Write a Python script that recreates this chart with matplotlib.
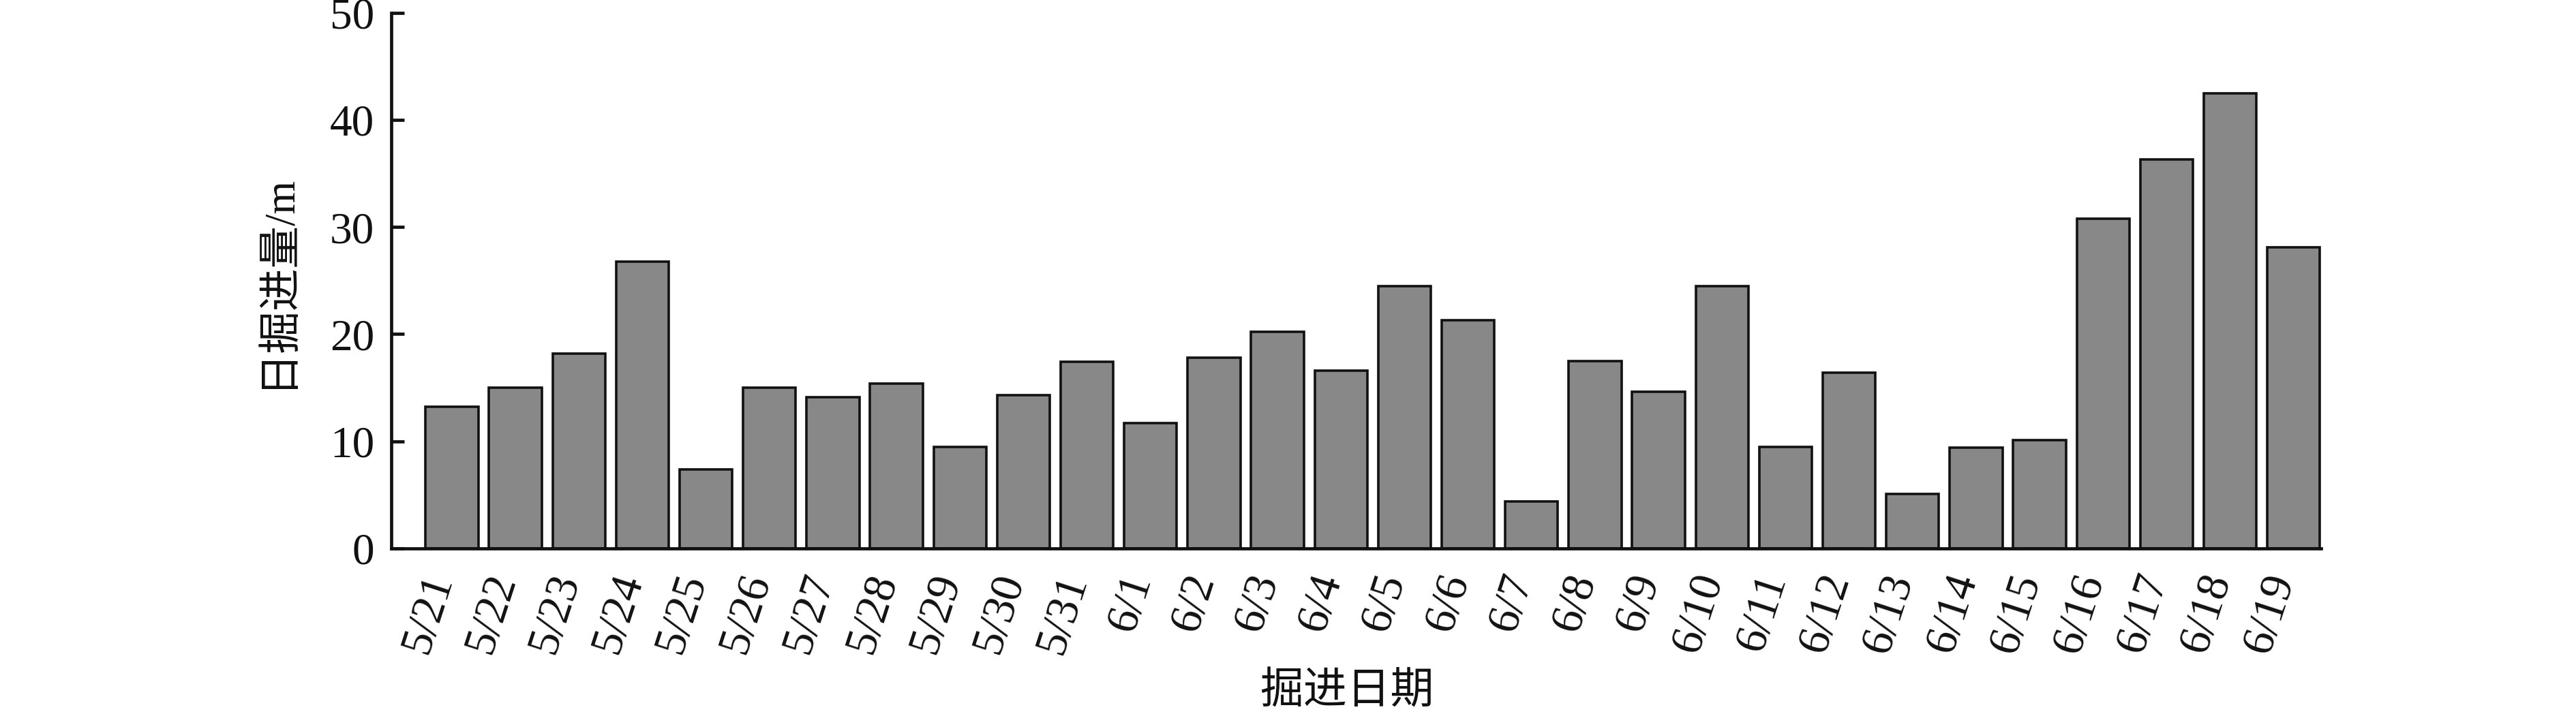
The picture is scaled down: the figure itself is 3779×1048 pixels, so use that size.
import numpy as np
import matplotlib
matplotlib.use('Agg')
import matplotlib.pyplot as plt

plt.rcParams['font.family'] = ['Liberation Serif', 'Noto Sans CJK SC', 'DejaVu Sans']

# daily advance per date
dates = ['5/21', '5/22', '5/23', '5/24', '5/25', '5/26', '5/27', '5/28', '5/29', '5/30',
         '5/31', '6/1', '6/2', '6/3', '6/4', '6/5', '6/6', '6/7', '6/8', '6/9',
         '6/10', '6/11', '6/12', '6/13', '6/14', '6/15', '6/16', '6/17', '6/18', '6/19']
advance = [13.2, 15.0, 18.2, 26.8, 7.4, 15.0, 14.1, 15.4, 9.5, 14.3,
           17.4, 11.7, 17.8, 20.2, 16.6, 24.5, 21.3, 4.4, 17.5, 14.6,
           24.5, 9.5, 16.4, 5.1, 9.4, 10.1, 30.8, 36.3, 42.5, 28.1]
yticks = [0, 10, 20, 30, 40, 50]

fig = plt.figure(figsize=(37.79, 10.48), dpi=100)
ax = fig.add_axes([0.152, 0.232, 0.749, 0.750])

x = np.arange(len(dates))
ax.bar(x, advance, width=0.83, color='#888888', edgecolor='#111111', linewidth=2.6)

ax.set_xlim(-0.95, len(dates) - 1 + 0.43)
ax.set_ylim(0, 50)
ax.set_yticks(yticks)
ax.set_xticks(x)
ax.set_xticklabels(dates, rotation=72, ha='right', va='baseline', rotation_mode='anchor')

for s in ['top', 'right']:
    ax.spines[s].set_visible(False)
for s in ['left', 'bottom']:
    ax.spines[s].set_linewidth(3.4)
    ax.spines[s].set_color('#111111')

ax.tick_params(axis='y', direction='in', length=14, width=3.4, labelsize=47, pad=18, colors='#111111')
ax.tick_params(axis='x', length=0, labelsize=48, pad=32, colors='#111111')

ax.set_ylabel('日掘进量/m', fontsize=45, color='#111111', va='center')
ax.yaxis.set_label_coords(-0.059, 0.5)
ax.set_xlabel('掘进日期', fontsize=46, color='#111111', va='center')
ax.xaxis.set_label_coords(0.495, -0.27)

fig.savefig('out.png', dpi=100)
